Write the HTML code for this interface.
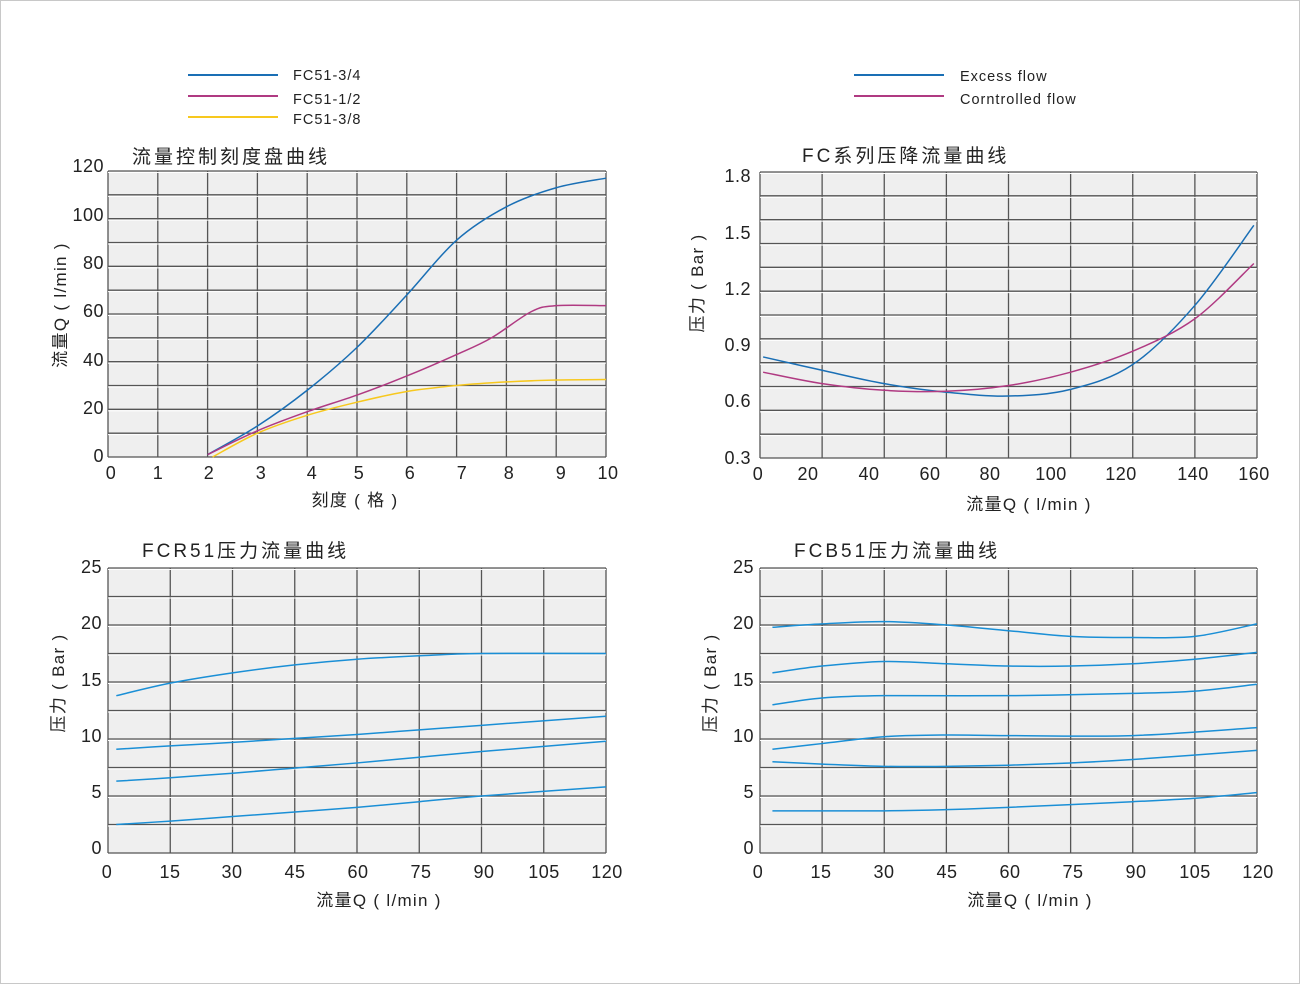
<!DOCTYPE html>
<html><head><meta charset="utf-8"><style>
html,body{margin:0;padding:0;background:#fff}
svg{display:block}
text{font-family:"Liberation Sans","Noto Sans CJK SC",sans-serif;fill:#222}
.t{letter-spacing:3px}
.a{letter-spacing:1.3px}
.lg{letter-spacing:1px}
</style></head><body>
<svg id="s" width="1300" height="984" xmlns="http://www.w3.org/2000/svg">
<rect x="0.5" y="0.5" width="1299" height="983" fill="#fff" stroke="#c8c8c8"/>
<g id="grids"></g>
<g id="curves" fill="none" stroke-width="1.5"></g>
<line x1="188" y1="75" x2="278" y2="75" stroke="#1a6fb5" stroke-width="2"/>
<line x1="188" y1="96" x2="278" y2="96" stroke="#b03a82" stroke-width="2"/>
<line x1="188" y1="117" x2="278" y2="117" stroke="#f7c81e" stroke-width="2"/>
<text class="lg" x="293" y="80" font-size="14.5">FC51-3/4</text>
<text class="lg" x="293" y="104" font-size="14.5">FC51-1/2</text>
<text class="lg" x="293" y="124" font-size="14.5">FC51-3/8</text>
<line x1="854" y1="75" x2="944" y2="75" stroke="#1a6fb5" stroke-width="2"/>
<line x1="854" y1="96" x2="944" y2="96" stroke="#b03a82" stroke-width="2"/>
<text class="lg" x="960" y="81" font-size="14.5">Excess flow</text>
<text class="lg" x="960" y="104" font-size="14.5">Corntrolled flow</text>
<text class="t" x="132" y="163" font-size="19">流量控制刻度盘曲线</text>
<text class="t" x="802" y="162" font-size="19">FC系列压降流量曲线</text>
<text class="t" x="142" y="557" font-size="19">FCR51压力流量曲线</text>
<text class="t" x="794" y="557" font-size="19">FCB51压力流量曲线</text>
<text class="a" x="355" y="506" font-size="17" text-anchor="middle">刻度 ( 格 )</text>
<text class="a" x="1029" y="510" font-size="17" text-anchor="middle">流量Q ( l/min )</text>
<text class="a" x="379" y="906" font-size="17" text-anchor="middle">流量Q ( l/min )</text>
<text class="a" x="1030" y="906" font-size="17" text-anchor="middle">流量Q ( l/min )</text>
<text class="a" transform="translate(66,305) rotate(-90)" font-size="17" text-anchor="middle">流量Q ( l/min )</text>
<text class="a" transform="translate(703,283) rotate(-90)" font-size="17" text-anchor="middle">压力 ( Bar )</text>
<text class="a" transform="translate(64,683) rotate(-90)" font-size="17" text-anchor="middle">压力 ( Bar )</text>
<text class="a" transform="translate(716,683) rotate(-90)" font-size="17" text-anchor="middle">压力 ( Bar )</text>
<g id="ticks" font-size="18" letter-spacing="0.5"></g>
</svg>
<script>
var NS="http://www.w3.org/2000/svg";
function el(p,t,a,txt){var e=document.createElementNS(NS,t);for(var k in a)e.setAttribute(k,a[k]);if(txt!=null)e.textContent=txt;document.getElementById(p).appendChild(e);return e;}
function grid(x0,x1,y0,y1,nc,nr){
 el("grids","rect",{x:x0,y:y0,width:x1-x0,height:y1-y0,fill:"#efefef"});
 for(var i=0;i<=nc;i++){var x=x0+(x1-x0)*i/nc;el("grids","line",{x1:x,y1:y0,x2:x,y2:y1,stroke:"#555","stroke-width":1.3});}
 for(var j=0;j<=nr;j++){var y=y0+(y1-y0)*j/nr;el("grids","line",{x1:x0,y1:y,x2:x1,y2:y,stroke:"#555","stroke-width":1.3});el("grids","line",{x1:x0,y1:y+1.5,x2:x1,y2:y+1.5,stroke:"#fff","stroke-width":1});}
}
grid(108,606,171,457,10,12);
grid(760,1257,172,458,8,12);
grid(108,606,568,853,8,10);
grid(760,1257,568,853,8,10);
function xt(xs,labs,y){for(var i=0;i<xs.length;i++)el("ticks","text",{x:xs[i],y:y,"text-anchor":"middle"},labs[i]);}
function yt(x,ys,labs){for(var i=0;i<ys.length;i++)el("ticks","text",{x:x,y:ys[i]+6,"text-anchor":"end"},labs[i]);}
xt([111,158,209,261,312,359,410,462,509,561,608],["0","1","2","3","4","5","6","7","8","9","10"],479);
xt([758,808,869,930,990,1051,1121,1193,1254],["0","20","40","60","80","100","120","140","160"],480);
xt([107,170,232,295,358,421,484,544,607],["0","15","30","45","60","75","90","105","120"],878);
xt([758,821,884,947,1010,1073,1136,1195,1258],["0","15","30","45","60","75","90","105","120"],878);
yt(104,[166,215,263,311,360,408,456],["120","100","80","60","40","20","0"]);
yt(751,[176,233,289,345,401,458],["1.8","1.5","1.2","0.9","0.6","0.3"]);
yt(102,[567,623,680,736,792,848],["25","20","15","10","5","0"]);
yt(754,[567,623,680,736,792,848],["25","20","15","10","5","0"]);
function curve(pts,fx,fy,col){
 var P=pts.map(function(p){return [fx(p[0]),fy(p[1])];});
 var d="M"+P[0][0]+","+P[0][1];
 for(var i=0;i<P.length-1;i++){
  var p0=P[i-1]||P[i],p1=P[i],p2=P[i+1],p3=P[i+2]||P[i+1];
  var c1=[p1[0]+(p2[0]-p0[0])/6,p1[1]+(p2[1]-p0[1])/6],c2=[p2[0]-(p3[0]-p1[0])/6,p2[1]-(p3[1]-p1[1])/6];
  d+=" C"+c1+" "+c2+" "+p2;
 }
 el("curves","path",{d:d,stroke:col});
}
var B="#1a6fb5",M="#b03a82",Y="#f7c81e",L="#1a8fd6";
var f1x=function(s){return 108+49.8*s},f1y=function(v){return 457-2.383*v};
curve([[2,1],[3,13],[4,28],[5,46],[6,68],[7,91],[8,105],[9,113],[10,117]],f1x,f1y,B);
curve([[2,1],[3,11],[4,19],[5,26],[6,34],[7,43],[7.7,50],[8.5,61],[9,63.5],[10,63.5]],f1x,f1y,M);
curve([[2.1,0],[3,10],[4,17.5],[5,23],[6,27.5],[7,30],[8,31.5],[9,32.3],[10,32.5]],f1x,f1y,Y);
var f2x=function(q){return 760+3.106*q},f2y=function(v){return 458-190.7*(v-0.3)};
curve([[1,0.83],[20,0.76],[40,0.69],[60,0.645],[80,0.625],[100,0.66],[120,0.79],[140,1.1],[159,1.52]],f2x,f2y,B);
curve([[1,0.75],[20,0.69],[40,0.655],[60,0.65],[80,0.68],[100,0.75],[120,0.86],[140,1.03],[159,1.32]],f2x,f2y,M);
var f3x=function(q){return 108+4.15*q},fy=function(v){return 853-11.4*v};
curve([[2,13.8],[15,14.9],[30,15.8],[45,16.5],[60,17],[75,17.3],[90,17.5],[120,17.5]],f3x,fy,L);
curve([[2,9.1],[15,9.4],[30,9.7],[45,10.05],[60,10.4],[75,10.8],[90,11.2],[120,12]],f3x,fy,L);
curve([[2,6.3],[15,6.6],[30,7],[45,7.45],[60,7.9],[75,8.4],[90,8.9],[120,9.8]],f3x,fy,L);
curve([[2,2.5],[15,2.8],[30,3.2],[45,3.6],[60,4],[75,4.5],[90,5],[120,5.8]],f3x,fy,L);
var f4x=function(q){return 760+4.14*q};
curve([[3,19.8],[15,20.1],[30,20.3],[45,20],[60,19.5],[75,19],[90,18.9],[105,19],[120,20.1]],f4x,fy,L);
curve([[3,15.8],[15,16.4],[30,16.8],[45,16.6],[60,16.4],[75,16.4],[90,16.6],[105,17],[120,17.6]],f4x,fy,L);
curve([[3,13],[15,13.6],[30,13.8],[60,13.8],[90,14],[105,14.2],[120,14.8]],f4x,fy,L);
curve([[3,9.1],[15,9.6],[30,10.2],[45,10.35],[60,10.3],[90,10.3],[120,11]],f4x,fy,L);
curve([[3,8],[15,7.8],[30,7.6],[45,7.6],[60,7.7],[75,7.9],[90,8.2],[120,9]],f4x,fy,L);
curve([[3,3.7],[30,3.7],[45,3.8],[60,4],[90,4.5],[105,4.8],[120,5.3]],f4x,fy,L);
</script>
</body></html>
